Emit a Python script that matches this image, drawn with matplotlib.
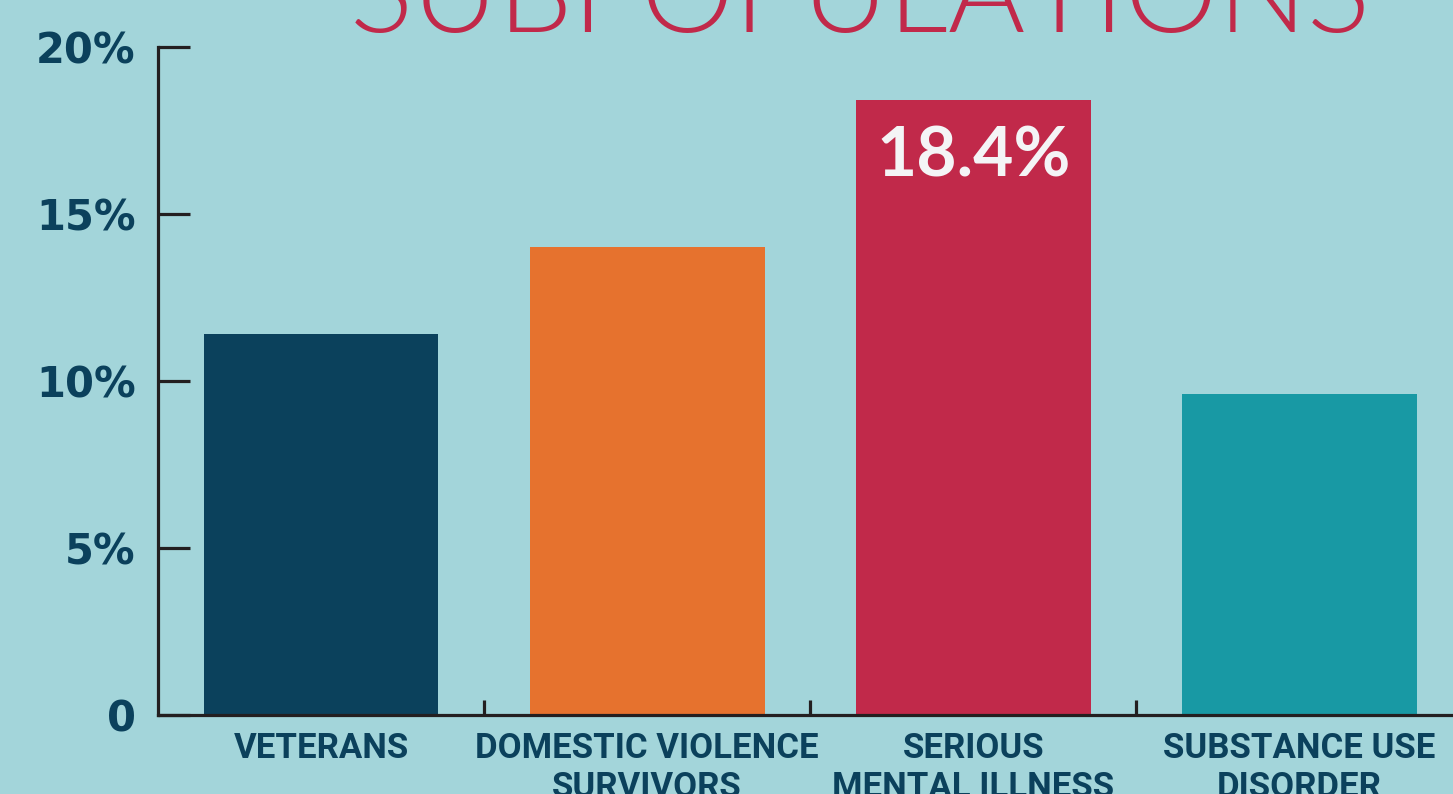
import numpy as np
import matplotlib.pyplot as plt

# 各亚群占比
categories = ['VETERANS', 'DOMESTIC VIOLENCE\nSURVIVORS', 'SERIOUS\nMENTAL ILLNESS', 'SUBSTANCE USE\nDISORDER']
values = [11.4, 14.0, 18.4, 9.6]
bar_colors = ['#0B415C', '#E6722E', '#C1294A', '#1899A4']
y_ticks = [0, 5, 10, 15, 20]
y_labels = ['0', '5%', '10%', '15%', '20%']
highlight = 2  # 只标注最高的那根

bg = '#A3D5DA'
navy = '#0B415C'
axis_color = '#231F20'

fig = plt.figure(figsize=(14.53, 7.94), dpi=100, facecolor=bg)
# 坐标轴右侧超出画布, 和原图一样被裁掉
ax = fig.add_axes([158 / 1453, 79 / 794, 1304.5 / 1453, 668 / 794])
ax.set_facecolor(bg)

x = np.arange(len(categories))
ax.bar(x, values, width=0.72, color=bar_colors, zorder=2)

ax.set_xlim(-0.5, 3.5)
ax.set_ylim(0, 20)

for s in ['top', 'right']:
    ax.spines[s].set_visible(False)
for s in ['left', 'bottom']:
    ax.spines[s].set_color(axis_color)
    ax.spines[s].set_linewidth(2.3)
    ax.spines[s].set_zorder(3)

ax.set_yticks(y_ticks)
ax.set_yticklabels(y_labels, fontsize=30, fontweight='bold', color=navy, family='DejaVu Sans')
ax.tick_params(axis='y', direction='in', length=23, width=2.3, color=axis_color, pad=16)

ax.set_xticks(x)
ax.set_xticklabels(categories, fontsize=25, fontweight='bold', color=navy, family='Roboto',
                   linespacing=1.25)
ax.tick_params(axis='x', which='major', length=0, pad=12)
ax.set_xticks(x[:-1] + 0.5, minor=True)
ax.tick_params(axis='x', which='minor', direction='in', length=11, width=2.3, color=axis_color)

v = values[highlight]
ax.annotate(f'{v}%', xy=(highlight, v), xytext=(0, -41), textcoords='offset points',
            ha='center', va='center', fontsize=50, fontweight='bold', color='#F4F4F6',
            family='Lato', zorder=4)

fig.text(860 / 1453, 1 - 32 / 794, 'SUBPOPULATIONS', ha='center', va='baseline',
         fontsize=85, fontweight=300, color='#C1294A', family='Lato')

fig.savefig('out.png', dpi=100, facecolor=bg)
